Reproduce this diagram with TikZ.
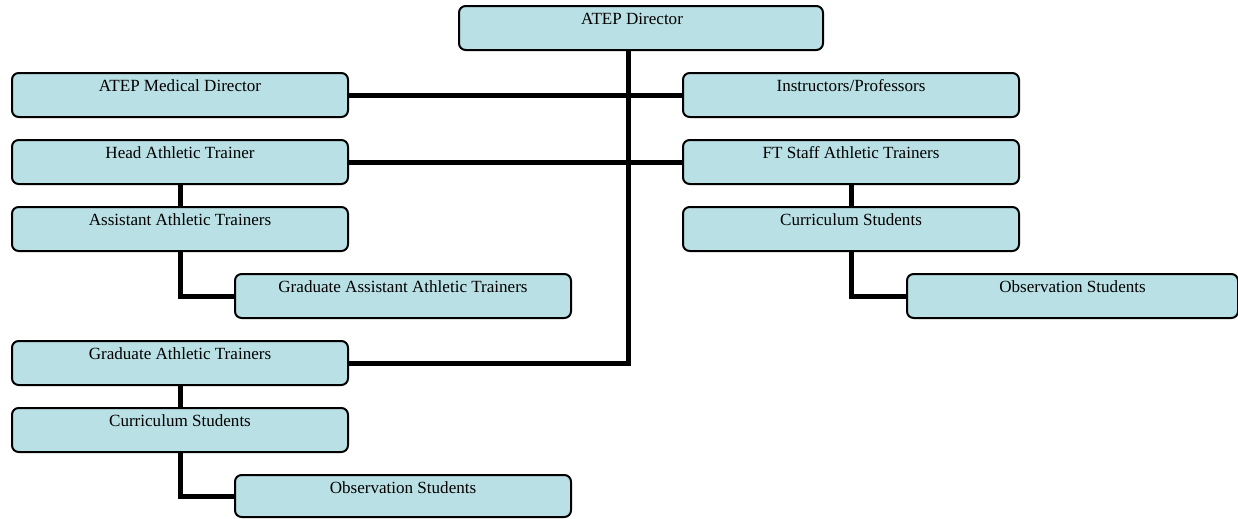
\documentclass[tikz,border=0pt]{standalone}
\usepackage{fontspec}
\setmainfont{Liberation Serif}
\usetikzlibrary{backgrounds}
\definecolor{boxfill}{RGB}{185,224,228}
\tikzset{
  box/.style={draw=black, line width=1.5pt, fill=boxfill, rounded corners=5pt,
    minimum width=252pt, minimum height=33pt, inner sep=0pt},
  lbl/.style={anchor=base, yshift=-14.25pt, inner sep=0pt,
    font=\fontsize{12.8}{15}\selectfont},
  conn/.style={draw=black, line width=3.75pt}
}
\begin{document}
\begin{tikzpicture}[x=0.75pt, y=-0.75pt]
\useasboundingbox (0,0) rectangle (1238,518);
\clip (0,0) rectangle (1238,518);
% boxes
\node[box, minimum width=273pt, label={[lbl, xshift=-6.75pt]north:ATEP Director}] (dir) at (641,28) {};
\node[box, label={[lbl]north:ATEP Medical Director}] (med) at (180,95) {};
\node[box, label={[lbl]north:Instructors/Professors}] (ins) at (851,95) {};
\node[box, label={[lbl]north:Head Athletic Trainer}] (head) at (180,162) {};
\node[box, label={[lbl]north:FT Staff Athletic Trainers}] (fts) at (851,162) {};
\node[box, label={[lbl]north:Assistant Athletic Trainers}] (asst) at (180,229) {};
\node[box, label={[lbl]north:Curriculum Students}] (cur2) at (851,229) {};
\node[box, label={[lbl]north:Graduate Assistant Athletic Trainers}] (gaat) at (403,296) {};
\node[box, minimum width=248.25pt, label={[lbl]north:Observation Students}] (obs2) at (1072.5,296) {};
\node[box, label={[lbl]north:Graduate Athletic Trainers}] (gat) at (180,363) {};
\node[box, label={[lbl]north:Curriculum Students}] (cur1) at (180,430) {};
\node[box, minimum height=31.5pt, label={[lbl]north:Observation Students}] (obs1) at (403,496) {};
\coordinate (tk) at (628,363);
% connectors
\begin{scope}[on background layer]
\draw[conn] (med.east) -- (ins.west);
\draw[conn] (head.east) -- (fts.west);
\draw[conn] (dir.south -| tk) -- (tk) -- (gat.east);
\draw[conn] (head.south) -- (asst.north);
\draw[conn] (asst.south) |- (gaat.west);
\draw[conn] (fts.south) -- (cur2.north);
\draw[conn] (cur2.south) |- (obs2.west);
\draw[conn] (gat.south) -- (cur1.north);
\draw[conn] (cur1.south) |- (obs1.west);
\end{scope}
\end{tikzpicture}
\end{document}
